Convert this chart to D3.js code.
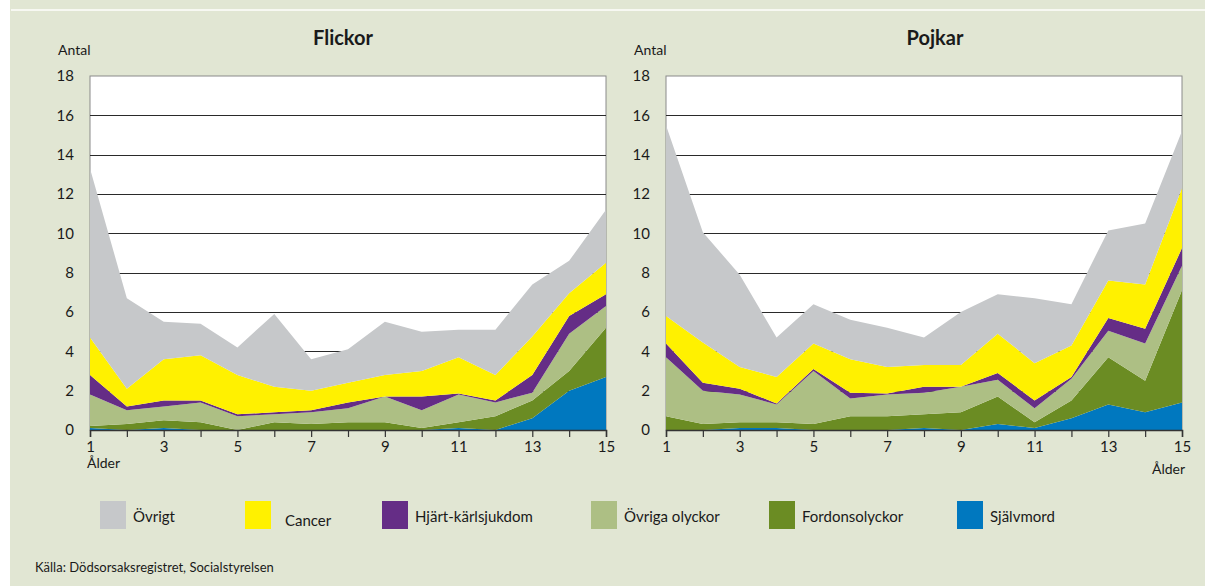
<!DOCTYPE html>
<html>
<head>
<meta charset="utf-8">
<script src="https://cdn.jsdelivr.net/npm/d3@7"></script>
<style>
  body { margin: 0; background: #e1e6d3; }
  text { font-family: Lato, "Open Sans", sans-serif; fill: #1a1a1a; }
</style>
</head>
<body>
<div id="chart-area"></div>
<script>
// Data: ages 1-15, stacked bottom -> top
const ages = d3.range(1, 16);
const causes = ['Självmord', 'Fordonsolyckor', 'Övriga olyckor', 'Hjärt-kärlsjukdom', 'Cancer', 'Övrigt'];
const causeColors = ['#0078bf', '#6b8c23', '#adbf84', '#652d86', '#fff100', '#c6c8ca'];
const legendOrder = ['Övrigt', 'Cancer', 'Hjärt-kärlsjukdom', 'Övriga olyckor', 'Fordonsolyckor', 'Självmord'];
const yTicks = [0, 2, 4, 6, 8, 10, 12, 14, 16, 18];
const xTickLabels = [1, 3, 5, 7, 9, 11, 13, 15];

// Flickor
const flickorSjalvmord = [0.1, 0, 0.1, 0, 0, 0, 0, 0, 0, 0, 0.1, 0, 0.6, 2.0, 2.7];
const flickorFordon = [0.1, 0.3, 0.4, 0.4, 0, 0.4, 0.3, 0.4, 0.4, 0.1, 0.3, 0.7, 0.9, 1.0, 2.5];
const flickorOvrigaOlyckor = [1.6, 0.7, 0.7, 1.0, 0.7, 0.4, 0.6, 0.7, 1.3, 0.9, 1.4, 0.7, 0.4, 1.9, 1.1];
const flickorHjart = [1.0, 0.2, 0.3, 0.1, 0.1, 0.1, 0.1, 0.3, 0, 0.7, 0.05, 0.1, 0.9, 0.9, 0.6];
const flickorCancer = [1.9, 0.9, 2.1, 2.3, 2.0, 1.3, 1.0, 1.0, 1.1, 1.3, 1.85, 1.3, 1.95, 1.15, 1.6];
const flickorOvrigt = [8.6, 4.6, 1.9, 1.6, 1.4, 3.7, 1.6, 1.7, 2.7, 2.0, 1.4, 2.3, 2.65, 1.65, 2.7];

// Pojkar
const pojkarSjalvmord = [0, 0, 0.1, 0.1, 0, 0, 0, 0.1, 0, 0.3, 0.1, 0.6, 1.3, 0.9, 1.4];
const pojkarFordon = [0.7, 0.3, 0.3, 0.3, 0.3, 0.7, 0.7, 0.7, 0.9, 1.4, 0.3, 0.9, 2.4, 1.6, 5.7];
const pojkarOvrigaOlyckor = [3.0, 1.7, 1.4, 0.9, 2.7, 0.9, 1.1, 1.1, 1.3, 0.85, 0.7, 1.1, 1.35, 1.9, 1.25];
const pojkarHjart = [0.7, 0.4, 0.3, 0.05, 0.1, 0.3, 0.05, 0.3, 0, 0.35, 0.4, 0.1, 0.65, 0.75, 0.9];
const pojkarCancer = [1.4, 2.05, 1.1, 1.35, 1.3, 1.7, 1.35, 1.1, 1.1, 2.0, 1.9, 1.6, 1.9, 2.25, 3.05];
const pojkarOvrigt = [9.7, 5.6, 4.7, 2.0, 2.0, 2.0, 2.0, 1.4, 2.7, 2.0, 3.3, 2.1, 2.55, 3.1, 2.9];

const width = 1205;
const height = 586;

const svg = d3.select('#chart-area')
  .append('svg')
    .attr('width', width)
    .attr('height', height);

// background + frame lines
svg.append('rect').attr('width', width).attr('height', height).attr('fill', '#e1e6d3');
svg.append('rect').attr('x', 0).attr('y', 0).attr('width', 10).attr('height', height).attr('fill', '#ffffff');
svg.append('rect').attr('x', 11).attr('y', 9).attr('width', width - 11).attr('height', 2).attr('fill', '#f7f8f2');

const color = d3.scaleOrdinal().domain(causes).range(causeColors);

const y = d3.scaleLinear()
  .domain([0, 18])
  .range([430, 76]);

function buildTable(series) {
  return ages.map((age, i) => {
    const row = { age: age };
    causes.forEach((c, k) => { row[c] = series[k][i]; });
    return row;
  });
}

function drawChart(opts) {
  const x = d3.scaleLinear()
    .domain([1, 15])
    .range([opts.left, opts.right]);

  const g = svg.append('g');

  // plot background
  g.append('rect')
    .attr('x', x(1))
    .attr('y', y(18))
    .attr('width', x(15) - x(1))
    .attr('height', y(0) - y(18))
    .attr('fill', '#ffffff')
    .attr('stroke', '#8a8a8a')
    .attr('stroke-width', 1);

  // gridlines
  g.selectAll('.grid')
    .data(yTicks.filter(d => d > 0 && d < 18))
    .enter().append('line')
      .attr('x1', x(1))
      .attr('x2', x(15))
      .attr('y1', d => Math.round(y(d)) + 0.5)
      .attr('y2', d => Math.round(y(d)) + 0.5)
      .attr('stroke', '#2a2a2a')
      .attr('stroke-width', 1.2);

  // stacked areas
  const stack = d3.stack().keys(causes);
  const layers = stack(buildTable(opts.series));

  const area = d3.area()
    .x(d => x(d.data.age))
    .y0(d => y(d[0]))
    .y1(d => y(d[1]));

  g.selectAll('.layer')
    .data(layers)
    .enter().append('path')
      .attr('d', area)
      .attr('fill', d => color(d.key));

  // x axis
  const xAxisCall = d3.axisBottom(x)
    .tickValues(ages)
    .tickSize(7)
    .tickFormat(d => xTickLabels.includes(d) ? d : '');
  const xAxis = g.append('g')
    .attr('transform', 'translate(0, ' + y(0) + ')')
    .call(xAxisCall);
  xAxis.select('.domain').attr('stroke', '#333').attr('stroke-width', 1.5);
  xAxis.selectAll('.tick line').attr('stroke', '#333').attr('stroke-width', 1.2);
  xAxis.selectAll('.tick text')
    .attr('y', 11)
    .attr('font-size', '15px')
    .attr('font-family', 'Lato, sans-serif')
    .attr('fill', '#1a1a1a');

  // y axis labels
  const yAxisCall = d3.axisLeft(y)
    .tickValues(yTicks)
    .tickSize(0)
    .tickPadding(16);
  const yAxis = g.append('g')
    .attr('transform', 'translate(' + x(1) + ', 0)')
    .call(yAxisCall);
  yAxis.select('.domain').remove();
  yAxis.selectAll('.tick text')
    .attr('font-size', '15px')
    .attr('font-family', 'Lato, sans-serif')
    .attr('fill', '#1a1a1a');

  // titles
  g.append('text')
    .attr('x', opts.titleX)
    .attr('y', 45)
    .attr('text-anchor', 'middle')
    .attr('font-size', '20px')
    .attr('font-weight', 'bold')
    .text(opts.title);

  g.append('text')
    .attr('x', x(1) - 32)
    .attr('y', 55)
    .attr('font-size', '14px')
    .text('Antal');

  g.append('text')
    .attr('x', opts.alderX)
    .attr('y', opts.alderY)
    .attr('font-size', '14px')
    .text('Ålder');
}

drawChart({
  title: 'Flickor',
  titleX: 343,
  left: 90,
  right: 606,
  alderX: 87,
  alderY: 468,
  series: [flickorSjalvmord, flickorFordon, flickorOvrigaOlyckor, flickorHjart, flickorCancer, flickorOvrigt]
});

drawChart({
  title: 'Pojkar',
  titleX: 935,
  left: 666,
  right: 1182,
  alderX: 1152,
  alderY: 474,
  series: [pojkarSjalvmord, pojkarFordon, pojkarOvrigaOlyckor, pojkarHjart, pojkarCancer, pojkarOvrigt]
});

// Legend
const legendX = [100, 245, 382, 591, 769, 957];
const legend = svg.append('g');
legendOrder.forEach((cause, i) => {
  const row = legend.append('g')
    .attr('transform', 'translate(' + legendX[i] + ', 501)');
  row.append('rect')
    .attr('width', 26)
    .attr('height', 28)
    .attr('fill', color(cause));
  row.append('text')
    .attr('x', cause === 'Cancer' ? 40 : 33)
    .attr('y', cause === 'Cancer' ? 25 : 21)
    .attr('font-size', '15px')
    .text(cause);
});

svg.append('text')
  .attr('x', 35)
  .attr('y', 572)
  .attr('font-size', '13px')
  .text('Källa: Dödsorsaksregistret, Socialstyrelsen');
</script>
</body>
</html>
